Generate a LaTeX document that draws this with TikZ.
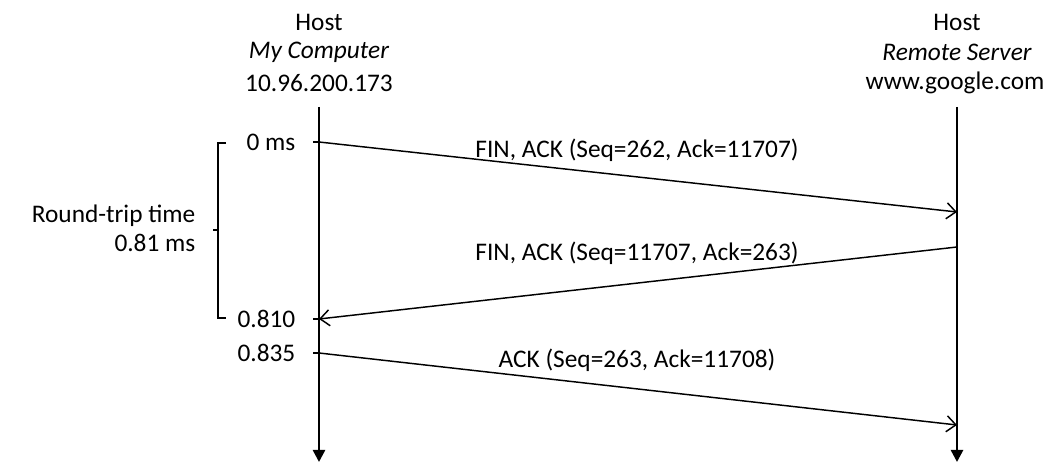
\documentclass[tikz,border=0pt]{standalone}
\usepackage{fontspec}
\setmainfont{Carlito}
\usetikzlibrary{arrows.meta}
\begin{document}
\begin{tikzpicture}[x=0.75pt,y=-0.75pt,font=\fontsize{19}{23}\selectfont,
    lifeline/.style={line width=1.9pt,-{Triangle[length=9pt,width=9pt]}},
    msg/.style={line width=1.1pt,-{Straight Barb[length=7pt,width=12pt,line width=1.1pt]}},
    tick/.style={line width=1.1pt}]
    \useasboundingbox (0,0) rectangle (1063,473);
    % hosts
    \node (lhost) at (319,22) {Host};
    \node (lcomp) at (319,52) {\itshape My Computer};
    \node (lip) at (319,83) {10.96.200.173};
    \node (rhost) at (957,22) {Host};
    \node (rcomp) at (957,52) {\itshape Remote Server};
    \node (rip) at (955,83) {www.google.com};
    \coordinate (ltop) at (319,107);
    \coordinate (lbot) at (319,462);
    \coordinate (rtop) at (957,107);
    \coordinate (rbot) at (957,462);
    \draw[lifeline] (ltop)--(lbot);
    \draw[lifeline] (rtop)--(rbot);
    % time marks
    \coordinate (t0) at (319,142);
    \coordinate (t1) at (319,319);
    \coordinate (t2) at (319,353);
    \coordinate (r0) at (957,212);
    \coordinate (r1) at (957,247);
    \coordinate (r2) at (957,425);
    \draw[tick] (t0)--++(-6,0);
    \draw[tick] (t1)--++(-6,0);
    \draw[tick] (t2)--++(-6,0);
    \node[anchor=east] (l0) at (300,142) {0 ms};
    \node[anchor=east] (l1) at (300,319) {0.810};
    \node[anchor=east] (l2) at (300,353) {0.835};
    % messages
    \draw[msg] (t0)--(r0);
    \draw[msg] (r1)--(t1);
    \draw[msg] (t2)--(r2);
    \node (m0) at (637,150) {FIN, ACK (Seq=262, Ack=11707)};
    \node (m1) at (637,253) {FIN, ACK (Seq=11707, Ack=263)};
    \node (m2) at (637,360) {ACK (Seq=263, Ack=11708)};
    % round trip bracket
    \coordinate (b0) at (218,143);
    \coordinate (b1) at (218,318);
    \coordinate (bm) at (218,230);
    \draw[tick] ([xshift=6]b0)--(b0)--(b1)--([xshift=6]b1);
    \draw[tick] (bm)--++(-5,0);
    \node[anchor=east] (rtt) at (200,216) {Round-trip time};
    \node[anchor=east] (rttv) at (200,243) {0.81 ms};
\end{tikzpicture}
\end{document}
